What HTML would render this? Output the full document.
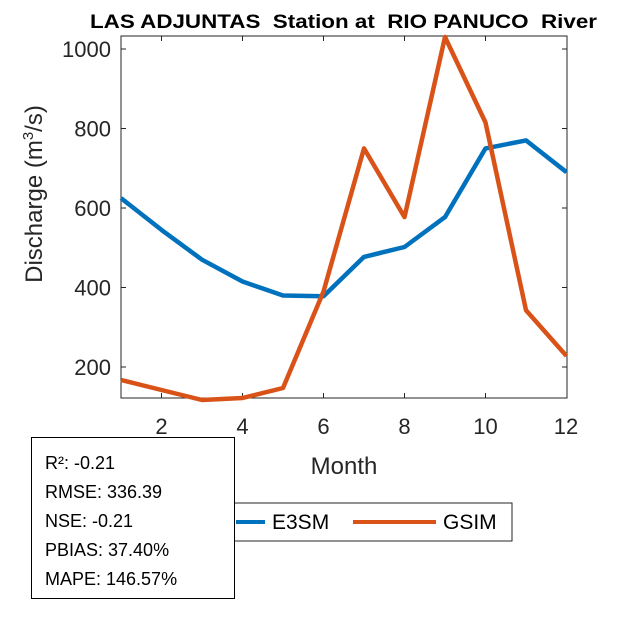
<!DOCTYPE html>
<html><head><style>body{margin:0;background:#fff;}svg text{font-family:"Liberation Sans",sans-serif;}</style></head>
<body>
<svg width="625" height="625" viewBox="0 0 625 625" xmlns="http://www.w3.org/2000/svg">
<rect x="121" y="36" width="446" height="362" fill="#fff" stroke="#262626" stroke-width="1"/>
<g stroke="#262626" stroke-width="1">
<line x1="161.5" y1="398" x2="161.5" y2="393"/><line x1="242.5" y1="398" x2="242.5" y2="393"/><line x1="323.5" y1="398" x2="323.5" y2="393"/><line x1="404.5" y1="398" x2="404.5" y2="393"/><line x1="485.5" y1="398" x2="485.5" y2="393"/>
<line x1="161.5" y1="36" x2="161.5" y2="41"/><line x1="242.5" y1="36" x2="242.5" y2="41"/><line x1="323.5" y1="36" x2="323.5" y2="41"/><line x1="404.5" y1="36" x2="404.5" y2="41"/><line x1="485.5" y1="36" x2="485.5" y2="41"/>
<line x1="121" y1="367" x2="126" y2="367"/><line x1="121" y1="287.5" x2="126" y2="287.5"/><line x1="121" y1="208" x2="126" y2="208"/><line x1="121" y1="128.5" x2="126" y2="128.5"/><line x1="121" y1="49" x2="126" y2="49"/>
<line x1="567" y1="367" x2="562" y2="367"/><line x1="567" y1="287.5" x2="562" y2="287.5"/><line x1="567" y1="208" x2="562" y2="208"/><line x1="567" y1="128.5" x2="562" y2="128.5"/><line x1="567" y1="49" x2="562" y2="49"/>
</g>
<g font-size="22" fill="#262626" text-anchor="middle">
<text x="161.5" y="434">2</text><text x="242.5" y="434">4</text><text x="323.5" y="434">6</text><text x="404.5" y="434">8</text><text x="485.5" y="434">10</text><text x="566" y="434">12</text>
</g>
<g font-size="22" fill="#262626" text-anchor="end">
<text x="111" y="375">200</text><text x="111" y="295.5">400</text><text x="111" y="216">600</text><text x="111" y="136.5">800</text><text x="111" y="57">1000</text>
</g>
<text x="344" y="474" font-size="24" fill="#262626" text-anchor="middle">Month</text>
<text transform="translate(42,194) rotate(-90)" font-size="24" fill="#262626" text-anchor="middle">Discharge (m<tspan font-size="15" dy="-9">3</tspan><tspan dy="9">/s)</tspan></text>
<text x="90" y="28" font-size="19" font-weight="bold" fill="#000" textLength="507" lengthAdjust="spacingAndGlyphs" xml:space="preserve">LAS ADJUNTAS  Station at  RIO PANUCO  River</text>
<g fill="none" stroke-width="4.5" stroke-linejoin="round">
<polyline stroke="#0072BD" points="121,198.1 161.5,229.9 202,259.7 242.5,281.5 283,295.5 323.5,296.3 364,256.9 404.5,247 445,217.1 485.5,148.4 526,140.4 566.5,172.2"/>
<polyline stroke="#D95319" points="121,380 161.5,390 202,400 242.5,398 283,388 323.5,291.5 364,148.4 404.5,217.1 445,37 485.5,122.5 526,310.2 566.5,356"/>
</g>
<rect x="205" y="503" width="307" height="38" fill="#fff" stroke="#262626" stroke-width="1"/>
<line x1="236" y1="522" x2="265" y2="522" stroke="#0072BD" stroke-width="4"/>
<text x="272" y="529" font-size="21" fill="#000">E3SM</text>
<line x1="353" y1="522" x2="436" y2="522" stroke="#D95319" stroke-width="4"/>
<text x="443" y="529" font-size="21" fill="#000">GSIM</text>
<rect x="31.5" y="437.5" width="203" height="161" fill="#fff" stroke="#000" stroke-width="1"/>
<g font-size="18" fill="#000">
<text x="45" y="469">R²: -0.21</text><text x="45" y="498">RMSE: 336.39</text><text x="45" y="527">NSE: -0.21</text><text x="45" y="556">PBIAS: 37.40%</text><text x="45" y="585">MAPE: 146.57%</text>
</g>
</svg>
</body></html>
